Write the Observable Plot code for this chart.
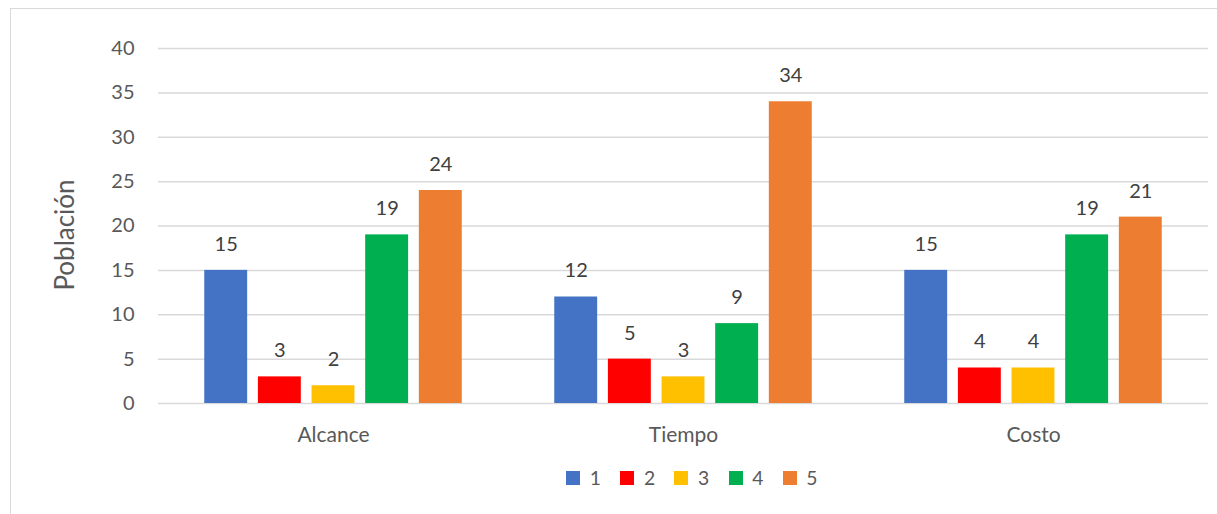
<!DOCTYPE html>
<html><head><meta charset="utf-8">
<script src="https://cdn.jsdelivr.net/npm/d3@7"></script>
<script src="https://cdn.jsdelivr.net/npm/@observablehq/plot@0.6"></script>
<style>
body{margin:0;background:#fff;font-family:Lato, "Open Sans", sans-serif;}
#wrap{position:relative;width:1217px;height:514px;overflow:hidden;background:#fff;}
#frame{position:absolute;left:10px;top:8px;width:1300px;height:600px;border-left:1.5px solid #d9d9d9;border-top:1.5px solid #d9d9d9;}
#chart{position:absolute;left:0;top:0;}
#legend{position:absolute;left:176px;top:461px;width:1051px;display:flex;justify-content:center;}
</style></head>
<body><div id="wrap"><div id="frame"></div><div id="chart"></div><div id="legend"></div></div>
<script>
const categories = ["Alcance", "Tiempo", "Costo"];
const series = ["1", "2", "3", "4", "5"];
const colors = ["#4472C4", "#FF0000", "#FFC000", "#00B050", "#ED7D31"];
const values1 = [15, 12, 15];
const values2 = [3, 5, 4];
const values3 = [2, 3, 4];
const values4 = [19, 9, 19];
const values5 = [24, 34, 21];
const yTicks = [0, 5, 10, 15, 20, 25, 30, 35, 40];
const yLabel = "Población";

const allValues = [values1, values2, values3, values4, values5];
const data = [];
categories.forEach((c, ci) => series.forEach((s, si) => data.push({cat: c, s, v: allValues[si][ci]})));

const chart = Plot.plot({
  width: 1217,
  height: 452,
  marginLeft: 157,
  marginRight: 9,
  marginTop: 48,
  marginBottom: 49,
  style: {fontFamily: "Lato, sans-serif", fontSize: "20px", color: "#595959", background: "transparent"},
  fx: {domain: categories, padding: 0, label: null},
  x: {domain: series, paddingInner: 0.2, paddingOuter: 0.862, round: false, axis: null},
  y: {domain: [0, 40], ticks: yTicks},
  color: {domain: series, range: colors},
  marks: [
    Plot.gridY(yTicks, {stroke: "#d9d9d9", strokeOpacity: 1, strokeWidth: 1.5}),
    Plot.axisY({ticks: yTicks, tickSize: 0, tickPadding: 24, fontSize: 20, label: null}),
    Plot.axisFx({anchor: "bottom", tickSize: 0, tickPadding: 24, fontSize: 21, label: null}),
    Plot.text([yLabel], {fx: () => categories[0], frameAnchor: "left", text: d => d, rotate: -90, textAnchor: "middle", lineAnchor: "middle", dx: -93, dy: 9, fontSize: 26, fill: "#595959"}),
    Plot.barY(data, {fx: "cat", x: "s", y: "v", fill: "s"}),
    Plot.text(data, {fx: "cat", x: "s", y: "v", text: d => String(d.v), dy: -26, fill: "#404040", fontSize: 20})
  ]
});
document.getElementById("chart").appendChild(chart);

const legend = Plot.legend({
  color: {type: "ordinal", domain: series, range: colors},
  swatchSize: 14,
  style: {fontFamily: "Lato, sans-serif", fontSize: "19.3px", color: "#595959"}
});
document.getElementById("legend").appendChild(legend);
</script></body></html>
